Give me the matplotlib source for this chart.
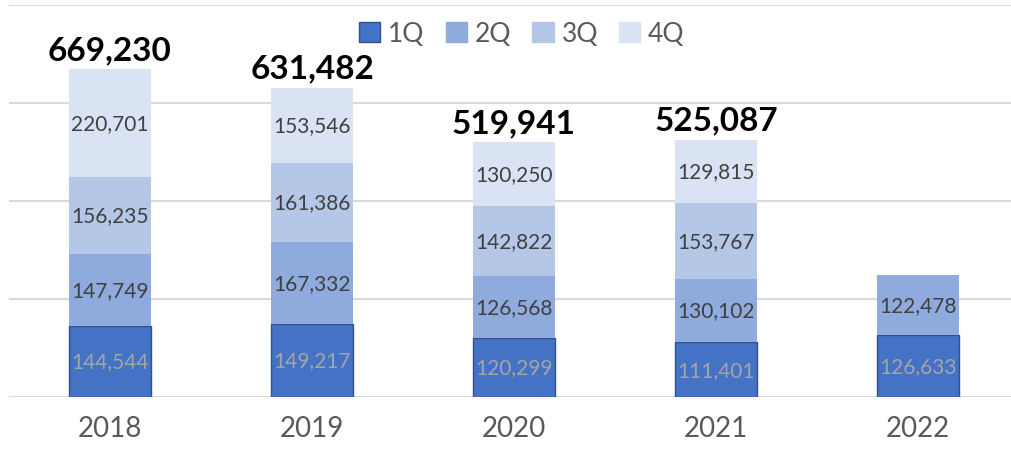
import matplotlib.pyplot as plt
from matplotlib.patches import Patch

years = ["2018", "2019", "2020", "2021", "2022"]
q1 = [144544, 149217, 120299, 111401, 126633]
q2 = [147749, 167332, 126568, 130102, 122478]
q3 = [156235, 161386, 142822, 153767, 0]
q4 = [220701, 153546, 130250, 129815, 0]
totals = ["669,230", "631,482", "519,941", "525,087", ""]
total_values = [669230, 631482, 519941, 525087, 0]

series = [("1Q", q1), ("2Q", q2), ("3Q", q3), ("4Q", q4)]
colors = ["#4472C4", "#8FAADC", "#B4C7E7", "#DAE3F3"]
label_colors = ["#A5A5A5", "#404040", "#404040", "#404040"]

plt.rcParams["font.family"] = ["Lato", "DejaVu Sans"]

fig = plt.figure(figsize=(10.12, 4.52), dpi=100)
ax = fig.add_axes([9 / 1012, 54 / 452, 1003 / 1012, 392 / 452])

x = list(range(len(years)))
width = 0.406
bottom = [0] * len(years)
handles = []
for (name, vals), col, lcol in zip(series, colors, label_colors):
    edge = "#2F528F" if name == "1Q" else col
    ax.bar(x, vals, width, bottom=bottom, color=col,
           edgecolor=edge, linewidth=1.0 if name == "1Q" else 0, zorder=3)
    for i, v in enumerate(vals):
        if v > 0:
            ax.text(x[i], bottom[i] + v / 2, f"{v:,}", ha="center", va="center",
                    fontsize=15, color=lcol, zorder=4)
    bottom = [b + v for b, v in zip(bottom, vals)]
    handles.append(Patch(facecolor=col, edgecolor=edge, label=name))

for i, t in enumerate(totals):
    if t:
        ax.text(x[i], total_values[i] + 10000, t, ha="center", va="bottom",
                fontsize=24, fontweight="bold", color="black", zorder=4)

ax.set_ylim(0, 800000)
ax.set_xlim(-0.5, 4.465)
ax.set_yticks([0, 200000, 400000, 600000, 800000])
ax.yaxis.grid(True, color="#D9D9D9", linewidth=1.5, zorder=0)
ax.set_yticklabels([])
ax.tick_params(axis="y", length=0)
ax.tick_params(axis="x", length=0, labelsize=20, labelcolor="#595959", pad=13)
ax.set_xticks(x)
ax.set_xticklabels(years)
for s in ax.spines.values():
    s.set_visible(False)

fig.legend(handles=handles, loc="center", bbox_to_anchor=(522 / 1012, 1 - 35 / 452),
           ncol=4, frameon=False, fontsize=19, handlelength=0.8, handleheight=0.8,
           handletextpad=0.3, columnspacing=0.8, labelcolor="#595959")

fig.savefig("out.png", dpi=100)
